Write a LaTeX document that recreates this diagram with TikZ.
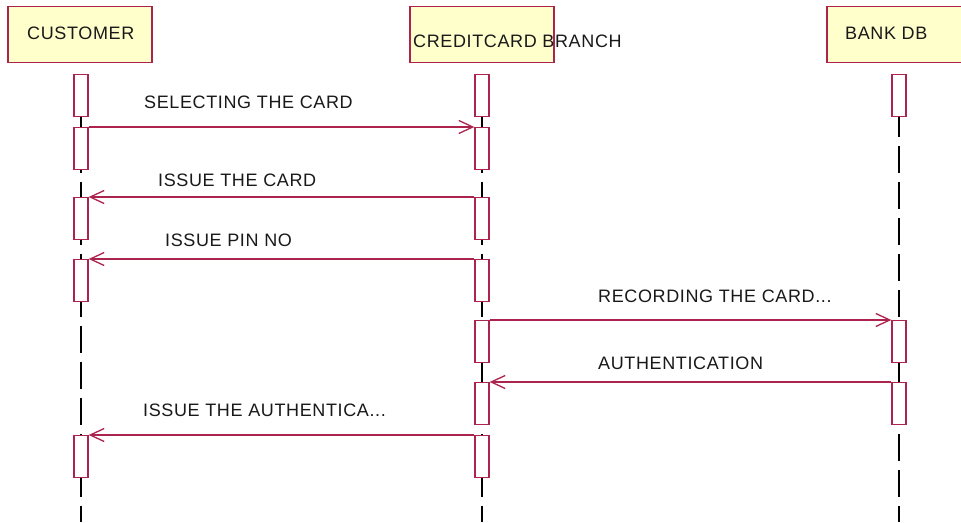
\documentclass[tikz,border=0pt]{standalone}
\usepackage{fontspec}
\setmainfont{Liberation Sans}[LetterSpace=3.5]
\usetikzlibrary{arrows.meta}
\definecolor{rose}{RGB}{172,36,78}
\definecolor{headfill}{RGB}{255,255,204}
\definecolor{txt}{RGB}{25,25,25}
\tikzset{
  x=1pt, y=-1pt,
  headbox/.style={draw=rose, line width=1.3pt, fill=headfill, minimum width=144pt, minimum height=56pt, inner sep=0pt, anchor=north},
  lbl/.style={anchor=base west, inner sep=0pt, text=txt, font=\fontsize{18}{20}\selectfont},
  act/.style={draw=rose, line width=1.3pt, fill=white, minimum width=14pt, minimum height=42pt, inner sep=0pt, anchor=north},
  life/.style={draw=black, line width=1.1pt, dash pattern=on 27pt off 9pt, dash phase=0pt},
  msg/.style={draw=rose, line width=1.3pt, -{Straight Barb[length=14pt,width=13pt,line width=1.3pt]}},
}
\begin{document}
\begin{tikzpicture}
\clip (0,0) rectangle (961,522);
\fill[white] (0,0) rectangle (961,522);
% heads
\node[headbox] (hc) at (80,6) {};
\node[headbox] (hb) at (482,6) {};
\node[headbox] (hd) at (899,6) {};
\node[lbl] (tc) at (27,39) {CUSTOMER};
\node[lbl] (tb) at (413,47) {CREDITCARD BRANCH};
\node[lbl] (td) at (845,39) {BANK DB};
% lifelines
\coordinate (sc) at (81,74);
\coordinate (sb) at (482,74);
\coordinate (sd) at (899,74);
\coordinate (ec) at (81,522);
\coordinate (eb) at (482,522);
\coordinate (ed) at (899,522);
\draw[life] (sc) -- (ec);
\draw[life] (sb) -- (eb);
\draw[life] (sd) -- (ed);
% activations customer
\node[act] (c1) at (sc) {};
\node[act] (c2) at (81,127) {};
\node[act] (c3) at (81,197) {};
\node[act] (c4) at (81,259) {};
\node[act] (c5) at (81,435) {};
% activations branch
\node[act] (b1) at (sb) {};
\node[act] (b2) at (482,127) {};
\node[act] (b3) at (482,197) {};
\node[act] (b4) at (482,259) {};
\node[act] (b5) at (482,320) {};
\node[act] (b6) at (482,382) {};
\node[act] (b7) at (482,435) {};
% activations bank
\node[act] (d1) at (sd) {};
\node[act] (d2) at (899,320) {};
\node[act] (d3) at (899,382) {};
% messages
\draw[msg] (c2.north east) -- (b2.north west);
\draw[msg] (b3.north west) -- (c3.north east);
\draw[msg] (b4.north west) -- (c4.north east);
\draw[msg] (b5.north east) -- (d2.north west);
\draw[msg] (d3.north west) -- (b6.north east);
\draw[msg] (b7.north west) -- (c5.north east);
% labels
\node[lbl] (m1) at (144,108) {SELECTING THE CARD};
\node[lbl] (m2) at (158,186) {ISSUE THE CARD};
\node[lbl] (m3) at (165,246) {ISSUE PIN NO};
\node[lbl] (m4) at (598,302) {RECORDING THE CARD...};
\node[lbl] (m5) at (598,369) {AUTHENTICATION};
\node[lbl] (m6) at (143,416) {ISSUE THE AUTHENTICA...};
\end{tikzpicture}
\end{document}
